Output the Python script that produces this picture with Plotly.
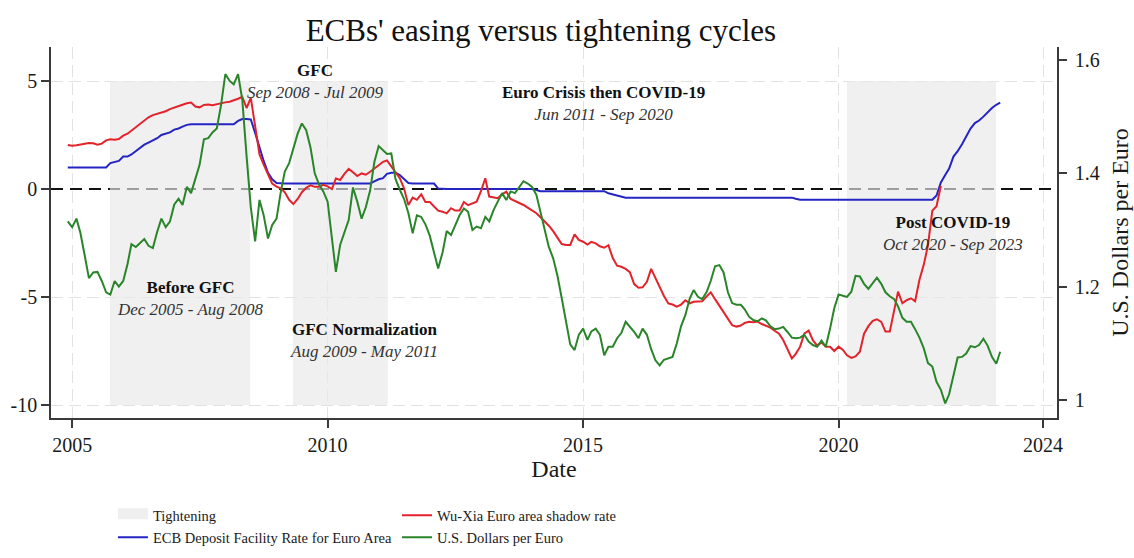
import pandas as pd
import plotly.graph_objects as go

# ---------------- data (monthly) ----------------
start_month = "2004-12-01"

usd_per_euro = [
    1.315, 1.305, 1.32, 1.295, 1.255, 1.215, 1.225, 1.226, 1.21, 1.19,
    1.186, 1.21, 1.20, 1.21, 1.24, 1.275, 1.27, 1.277, 1.284, 1.272,
    1.268, 1.297, 1.32, 1.305, 1.315, 1.345, 1.355, 1.344, 1.376, 1.365,
    1.39, 1.415, 1.46, 1.462, 1.472, 1.479, 1.52, 1.575, 1.563, 1.557,
    1.575, 1.53, 1.43, 1.34, 1.28, 1.353, 1.326, 1.285, 1.309, 1.32,
    1.368, 1.403, 1.418, 1.444, 1.47, 1.488, 1.476, 1.445, 1.40, 1.38,
    1.368, 1.35, 1.285, 1.226, 1.274, 1.297, 1.318, 1.375, 1.35, 1.32,
    1.34, 1.37, 1.42, 1.448, 1.441, 1.434, 1.435, 1.39, 1.371, 1.355,
    1.33, 1.294, 1.326, 1.323, 1.31, 1.29, 1.26, 1.232, 1.26, 1.298,
    1.291, 1.309, 1.326, 1.338, 1.332, 1.30, 1.306, 1.303, 1.323, 1.315,
    1.335, 1.35, 1.365, 1.353, 1.368, 1.365, 1.376, 1.386, 1.382, 1.376,
    1.362, 1.332, 1.297, 1.27, 1.25, 1.22, 1.18, 1.14, 1.098, 1.088,
    1.115, 1.126, 1.106, 1.121, 1.126, 1.115, 1.079, 1.094, 1.094, 1.109,
    1.118, 1.138, 1.13, 1.12, 1.109, 1.126, 1.115, 1.09, 1.07, 1.061,
    1.071, 1.074, 1.076, 1.10, 1.13, 1.15, 1.179, 1.194, 1.182, 1.178,
    1.19, 1.21, 1.236, 1.238, 1.225, 1.19, 1.171, 1.168, 1.168, 1.16,
    1.147, 1.141, 1.139, 1.144, 1.14, 1.13, 1.125, 1.126, 1.129, 1.12,
    1.11, 1.109, 1.11, 1.115, 1.103, 1.097, 1.094, 1.105, 1.094, 1.126,
    1.162, 1.186, 1.184, 1.182, 1.191, 1.219, 1.218, 1.205, 1.196, 1.206,
    1.216, 1.205, 1.19, 1.183, 1.178, 1.165, 1.145, 1.138, 1.138, 1.125,
    1.11, 1.091, 1.065, 1.059, 1.032, 1.018, 0.994, 1.01, 1.045, 1.075,
    1.076, 1.082, 1.095, 1.093, 1.097, 1.108, 1.096, 1.076, 1.064, 1.085,
]

shadow_rate = [
    2.04, 2.0, 2.03, 2.07, 2.1, 2.13, 2.12, 2.05, 2.1, 2.25,
    2.3, 2.28, 2.31, 2.47, 2.56, 2.7, 2.85, 2.98, 3.15, 3.32,
    3.42, 3.47, 3.52, 3.6, 3.7, 3.76, 3.81, 3.9, 3.97, 4.0,
    3.82, 3.78, 3.89, 3.91, 3.88, 3.93, 3.99, 4.01, 4.04, 4.1,
    4.18, 4.27, 3.75, 4.22, 3.0, 1.6, 1.13, 0.7, 0.25, 0.11,
    0.03, -0.15, -0.5, -0.7, -0.46, -0.15, 0.06, 0.17, 0.1, 0.1,
    0.19, 0.12, 0.0, 0.49, 0.42, 0.7, 0.93, 0.78, 0.6, 0.72,
    0.66, 0.8, 0.93, 1.1, 1.26, 1.32, 1.05, 0.75, 0.5, 0.03,
    -0.74, -0.4, -0.5, -0.25, -0.6, -0.6, -0.8, -1.0, -1.05, -1.13,
    -0.89, -1.0, -1.0, -0.6, -0.75, -0.66, -0.59, -0.1, 0.5, -0.35,
    -0.38, -0.43, -0.25, -0.12, -0.46, -0.55, -0.65, -0.74, -0.86, -0.98,
    -1.12, -1.3, -1.5, -1.7, -1.95, -2.25, -2.55, -2.59, -2.59, -2.1,
    -2.36, -2.44, -2.57, -2.45, -2.52, -2.65, -2.72, -2.6, -3.2, -3.55,
    -3.6, -3.7, -3.85, -4.4, -4.57, -4.55, -4.3, -3.7, -4.15, -4.55,
    -4.95, -5.3, -5.35, -5.45, -5.35, -5.15, -5.29, -5.22, -5.22, -5.2,
    -4.98, -4.78, -5.1, -5.4, -5.7, -6.05, -6.3, -6.37, -6.32, -6.2,
    -6.15, -6.17, -6.14, -6.25, -6.33, -6.42, -6.56, -6.7, -6.99, -7.38,
    -7.84, -7.63, -7.3, -6.7, -6.55, -7.0, -7.25, -7.1, -7.3, -7.3,
    -7.5, -7.3, -7.45, -7.7, -7.82, -7.75, -7.53, -6.7, -6.35, -6.1,
    -6.03, -6.15, -6.6, -6.6, -5.68, -4.75, -5.29, -5.15, -5.06, -5.2,
    -4.2, -3.5, -2.6, -1.0, -0.8, 0.15,
]

deposit_rate = [
    1.0, 1.0, 1.0, 1.0, 1.0, 1.0, 1.0, 1.0, 1.0, 1.0,
    1.2, 1.25, 1.3, 1.5, 1.5, 1.6, 1.76, 1.9, 2.05, 2.15,
    2.25, 2.35, 2.5, 2.55, 2.62, 2.75, 2.8, 2.89, 2.97, 3.0,
    3.0, 3.0, 3.0, 3.0, 3.0, 3.0, 3.0, 3.0, 3.0, 3.0,
    3.15, 3.24, 3.24, 3.22, 2.6, 1.9, 1.3, 0.75, 0.45, 0.28,
    0.25, 0.25, 0.25, 0.25, 0.25, 0.25, 0.25, 0.25, 0.25, 0.25,
    0.25, 0.25, 0.25, 0.25, 0.25, 0.25, 0.25, 0.25, 0.25, 0.25,
    0.25, 0.25, 0.35, 0.45, 0.5, 0.7, 0.75, 0.75, 0.65, 0.45,
    0.28, 0.25, 0.25, 0.25, 0.25, 0.25, 0.25, 0.02, 0.0, 0.0,
    0.0, 0.0, 0.0, 0.0, 0.0, 0.0, 0.0, 0.0, 0.0, 0.0,
    0.0, 0.0, 0.0, 0.0, 0.0, 0.0, 0.0, 0.0, 0.0, 0.0,
    -0.05, -0.1, -0.1, -0.1, -0.1, -0.1, -0.1, -0.1, -0.1, -0.1,
    -0.1, -0.1, -0.1, -0.1, -0.1, -0.1, -0.1, -0.2, -0.25, -0.3,
    -0.38, -0.4, -0.4, -0.4, -0.4, -0.4, -0.4, -0.4, -0.4, -0.4,
    -0.4, -0.4, -0.4, -0.4, -0.4, -0.4, -0.4, -0.4, -0.4, -0.4,
    -0.4, -0.4, -0.4, -0.4, -0.4, -0.4, -0.4, -0.4, -0.4, -0.4,
    -0.4, -0.4, -0.4, -0.4, -0.4, -0.4, -0.4, -0.4, -0.4, -0.4,
    -0.4, -0.45, -0.5, -0.5, -0.5, -0.5, -0.5, -0.5, -0.5, -0.5,
    -0.5, -0.5, -0.5, -0.5, -0.5, -0.5, -0.5, -0.5, -0.5, -0.5,
    -0.5, -0.5, -0.5, -0.5, -0.5, -0.5, -0.5, -0.5, -0.5, -0.5,
    -0.5, -0.5, -0.5, -0.5, -0.3, 0.3, 0.65, 0.95, 1.5, 1.75,
    2.07, 2.45, 2.8, 3.05, 3.17, 3.35, 3.55, 3.75, 3.9, 4.0,
]

# tightening periods (shaded), as drawn
shade_start = ["2005-09-28", "2009-04-28", "2020-03-01"]
shade_end = ["2008-06-26", "2011-03-08", "2023-01-30"]
shade_bottom = -10
shade_top = 5

# period labels (bold name, italic date range)
period_titles = ["Before GFC", "GFC", "GFC Normalization",
                 "Euro Crisis then COVID-19", "Post COVID-19"]
period_ranges = ["Dec 2005 - Aug 2008", "Sep 2008 - Jul 2009",
                 "Aug 2009 - May 2011", "Jun 2011 - Sep 2020",
                 "Oct 2020 - Sep 2023"]
label_x = [0.1382, 0.2624, 0.3111, 0.5497, 0.8966]
label_y = [0.322, 0.907, 0.209, 0.848, 0.497]

x_tick_vals = ["2005-01-01", "2010-01-01", "2015-01-01", "2020-01-01", "2024-01-01"]
x_tick_text = ["2005", "2010", "2015", "2020", "2024"]
y_tick_vals = [-10, -5, 0, 5]
y_tick_text = ["-10", "-5", "0", "5"]
y_grid_vals = [-10, -5, 5]
y2_tick_vals = [1, 1.2, 1.4, 1.6]
y2_tick_text = ["1", "1.2", "1.4", "1.6"]

# ---------------- figure ----------------
months = pd.date_range(start=start_month, periods=len(usd_per_euro), freq="MS")

RED = "#e3232b"
BLUE = "#2424c4"
GREEN = "#2a852a"
FONT = "Liberation Serif"

shade_x, shade_y = [], []
for s, e in zip(shade_start, shade_end):
    shade_x += [s, s, e, e, s, None]
    shade_y += [shade_bottom, shade_top, shade_top, shade_bottom, shade_bottom, None]

fig = go.Figure()

fig.add_trace(go.Scatter(
    x=shade_x, y=shade_y, mode="lines", fill="toself",
    fillcolor="rgba(232,232,232,0.66)", line=dict(width=0),
    showlegend=False, hoverinfo="skip"))

fig.add_trace(go.Scatter(
    x=[None], y=[None], mode="lines", fill="toself", fillcolor="#efefef",
    line=dict(color="#efefef", width=10), name="Tightening", legend="legend"))

fig.add_trace(go.Scatter(
    x=months, y=usd_per_euro, mode="lines", yaxis="y2",
    line=dict(color=GREEN, width=2), name="U.S. Dollars per Euro",
    legend="legend2", legendrank=2))

fig.add_trace(go.Scatter(
    x=months[:len(deposit_rate)], y=deposit_rate, mode="lines",
    line=dict(color=BLUE, width=2),
    name="ECB Deposit Facility Rate for Euro Area", legend="legend"))

fig.add_trace(go.Scatter(
    x=months[:len(shadow_rate)], y=shadow_rate, mode="lines",
    line=dict(color=RED, width=2), name="Wu-Xia Euro area shadow rate",
    legend="legend2", legendrank=1))

# zero reference line (below the shading so it greys inside it)
fig.add_shape(type="line", xref="paper", x0=0, x1=1, yref="y", y0=0, y1=0,
              line=dict(color="#111111", width=2, dash="12px,7px"), layer="below")

for t, r, lx, ly in zip(period_titles, period_ranges, label_x, label_y):
    fig.add_annotation(
        x=lx, y=ly, xref="paper", yref="paper",
        text="<b>" + t + "</b><br><span style='color:#333333'><i>" + r + "</i></span>",
        showarrow=False, xanchor="center", yanchor="middle", align="center",
        font=dict(family=FONT, size=17, color="#111111"))

axis_line = dict(showline=True, linecolor="#3a3a3a", linewidth=1.5,
                 ticks="outside", ticklen=8, tickcolor="#3a3a3a", tickwidth=1.5,
                 zeroline=False, automargin=False)
grid_style = dict(gridcolor="#e2e2e2", gridwidth=1, griddash="12px,6px")

legend_style = dict(xref="container", yref="container", y=0.105,
                    xanchor="left", yanchor="top", orientation="v",
                    font=dict(family=FONT, size=14.5),
                    bgcolor="rgba(0,0,0,0)", tracegroupgap=0)

fig.update_layout(
    width=1134, height=558,
    margin=dict(l=51, r=77, t=47, b=140, autoexpand=False),
    paper_bgcolor="white", plot_bgcolor="white",
    font=dict(family=FONT, size=20, color="#1a1a1a"),
    title=dict(text="ECBs' easing versus tightening cycles", xref="paper", x=0.487,
               yref="container", y=0.946, xanchor="center", yanchor="middle",
               font=dict(family=FONT, size=31, color="#111111")),
    xaxis=dict(type="date", range=["2004-08-03", "2024-04-10"],
               tickvals=x_tick_vals, ticktext=x_tick_text,
               showgrid=True, **grid_style,
               title=dict(text="Date", standoff=2), **axis_line),
    yaxis=dict(range=[-10.602, 6.574], tickvals=y_tick_vals, ticktext=y_tick_text,
               showgrid=False,
               minor=dict(tickvals=y_grid_vals, showgrid=True, ticks="", **grid_style),
               **axis_line),
    yaxis2=dict(overlaying="y", side="right", range=[0.9682, 1.6229],
                tickvals=y2_tick_vals, ticktext=y2_tick_text, showgrid=False,
                ticklabelstandoff=4,
                title=dict(text="U.S. Dollars per Euro", standoff=12), **axis_line),
    legend=dict(x=0.0996, **legend_style),
    legend2=dict(x=0.3501, **legend_style),
)

fig.write_html("out.html")
